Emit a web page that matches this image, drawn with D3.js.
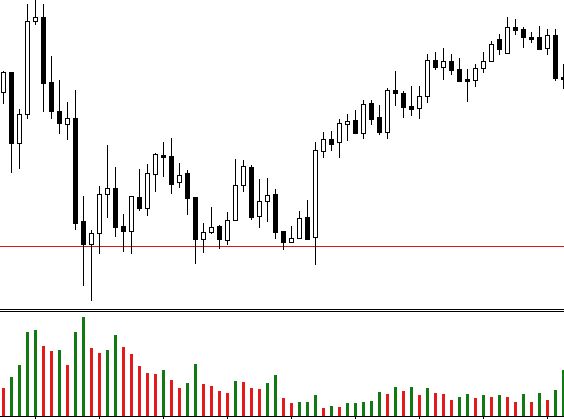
<!DOCTYPE html>
<html>
<head>
<meta charset="utf-8">
<script src="https://cdn.jsdelivr.net/npm/d3@7"></script>
<style>
  html, body { margin: 0; padding: 0; background: #fff; overflow: hidden; }
  svg { display: block; }
</style>
</head>
<body>
<div id="chart"></div>
<script>
// bars, oldest first
var opens  = [228,248,177,206,299,303,238,209,196,202, 99, 76, 87,126,132, 94, 89,123,112,146,
              165,164,138,147,123, 81, 88, 94, 80,100,135,153,104,119,126, 89, 78, 82,103, 83,
              169,181,178,196,200,187,217,203,188,230,227,214,212,224,260,253,259,251,241,240,
              252,259,281,267,293,291,283,283,272,285,243];
var highs  = [249,248,211,316,322,316,264,240,218,230,124, 90,134,175,153,106,124,151,156,167,
              178,182,157,150,123, 97,113, 95,108,161,160,155,141,142,131, 89, 94,109,120,178,
              188,189,201,206,210,220,220,215,232,249,229,234,234,266,268,272,266,262,251,256,
              268,279,286,303,301,293,288,294,291,291,256];
var lows   = [217,148,152,202,296,209,202,187,181, 91, 35, 20, 67,103, 84, 69, 67,110,105,129,
              144,127,133,106, 57, 68, 87, 72, 76,100,129,101, 93, 99, 82, 71, 78, 82, 81, 56,
              163,170,163,180,187,182,196,186,182,215,203,205,202,218,251,241,246,239,219,234,
              248,259,266,267,286,273,278,271,266,240,232];
var closes = [248,177,206,299,303,237,209,197,202, 97, 76, 87,126,132, 93, 89,124,112,147,166,
              163,136,145,122, 81, 88, 93, 81,100,135,154,103,119,125, 88, 78, 82,102, 81,170,
              181,176,197,199,187,216,201,188,230,227,213,211,224,260,253,259,250,239,239,252,
              259,276,271,293,290,283,281,271,285,242,241];

var volumes = [28,39,51,84,86,70,65,66,51,84,99,68,63,66,81,69,62,50,43,42,
               46,36,28,33,52,32,30,25,23,35,34,28,27,33,41,18,13,14,14,21,
                8,10, 9,13,13,14,15,24,22,29,25,29,21,28,23,22,16,19,22,18,
               21,19,21,19,14,22,14,23,16,26,46];
// g = volume up on previous bar, r = down
var volumeDir = 'rggggrrgrg' + 'grrggrrrrr' + 'grrggrrrrg' + 'rrrggrrggg' +
                'rgrgggggrg' + 'rgrgrrrggr' + 'grgrrgrgrg' + 'g';

var level = 74;            // horizontal line
var tickEvery = 8, tickStart = 4;

var width = 564, height = 419;

var bars = opens.map((o, i) => ({
  i: i, o: o, h: highs[i], l: lows[i], c: closes[i],
  v: volumes[i], up: volumeDir[i] === 'g'
}));

var x = d3.scaleLinear().domain([0, 70]).range([3, 563]);
var y = d3.scaleLinear().domain([0, 320]).range([320, 0]);
var yv = d3.scaleLinear().domain([0, 100]).range([416, 316]);

var svg = d3.select('#chart').append('svg')
  .attr('width', width)
  .attr('height', height)
  .attr('shape-rendering', 'crispEdges');

svg.append('rect').attr('width', width).attr('height', height).attr('fill', '#fff');

// level line sits behind the candles
svg.append('line')
  .attr('x1', 0).attr('x2', width)
  .attr('y1', Math.round(y(level)) + 0.5).attr('y2', Math.round(y(level)) + 0.5)
  .attr('stroke', '#d41a1a');

var candles = svg.append('g').selectAll('g')
  .data(bars)
  .enter().append('g');

candles.append('line')
  .attr('x1', d => x(d.i) + 0.5).attr('x2', d => x(d.i) + 0.5)
  .attr('y1', d => y(d.h)).attr('y2', d => y(d.l) + 1)
  .attr('stroke', '#000');

candles.filter(d => d.c > d.o).append('rect')
  .attr('x', d => x(d.i) - 1.5)
  .attr('y', d => y(d.c) + 0.5)
  .attr('width', 4)
  .attr('height', d => Math.max(1, y(d.o) - y(d.c)))
  .attr('fill', '#fff')
  .attr('stroke', '#000');

candles.filter(d => d.c <= d.o).append('rect')
  .attr('x', d => x(d.i) - 2)
  .attr('y', d => y(d.o))
  .attr('width', 5)
  .attr('height', d => Math.max(2, y(d.c) - y(d.o) + 1))
  .attr('fill', '#000');

// separator between price and volume windows
[309.5, 311.5].forEach(yy => {
  svg.append('line').attr('x1', 0).attr('x2', width)
    .attr('y1', yy).attr('y2', yy).attr('stroke', '#000');
});

svg.append('g').selectAll('rect')
  .data(bars)
  .enter().append('rect')
    .attr('x', d => x(d.i) - 1)
    .attr('y', d => yv(d.v))
    .attr('width', 3)
    .attr('height', d => yv(0) - yv(d.v))
    .attr('fill', d => d.up ? '#127a12' : '#e3191c');

svg.append('line').attr('x1', 0).attr('x2', width)
  .attr('y1', 416.5).attr('y2', 416.5).attr('stroke', '#000');

var ticks = d3.range(tickStart, bars.length, tickEvery);
svg.append('g')
  .attr('transform', 'translate(0,417)')
  .call(d3.axisBottom(x).tickValues(ticks).tickFormat('').tickSize(4))
  .call(g => g.select('.domain').remove())
  .selectAll('line').attr('stroke', '#000');
</script>
</body>
</html>
